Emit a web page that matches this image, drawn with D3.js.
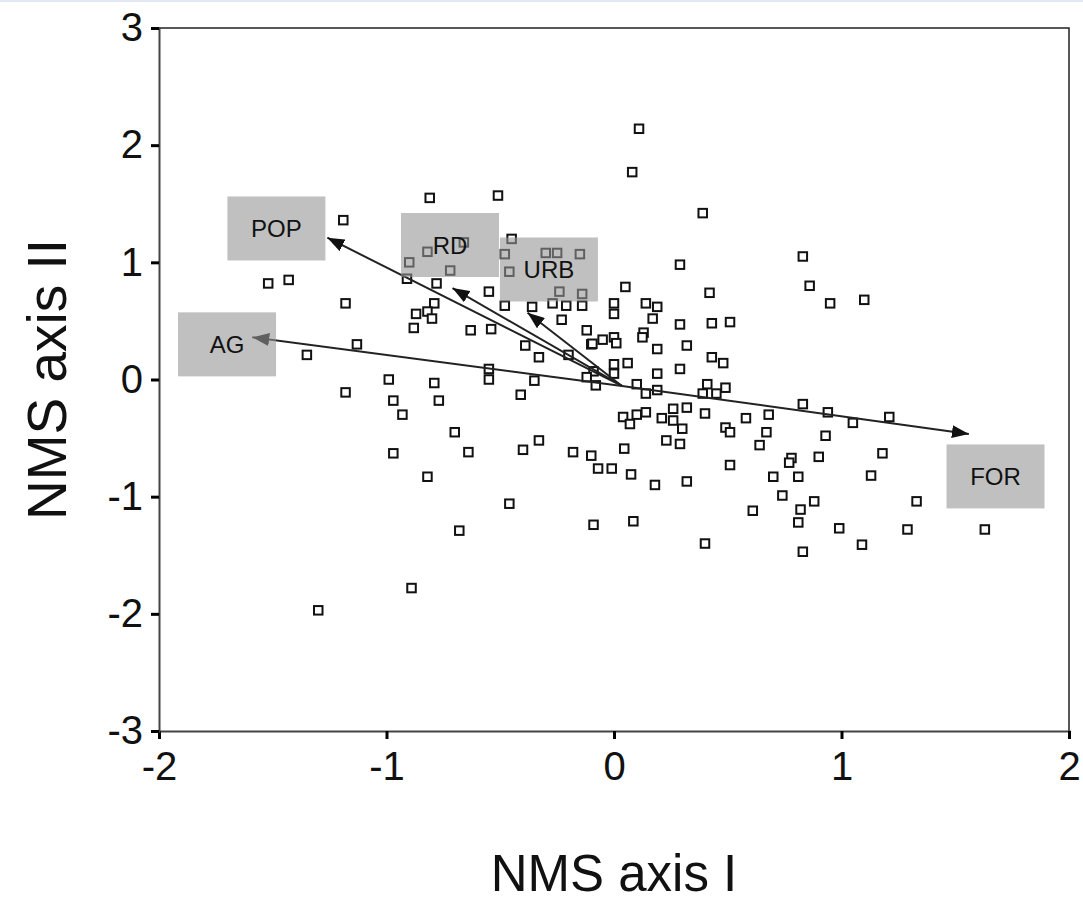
<!DOCTYPE html>
<html>
<head>
<meta charset="utf-8">
<script src="https://cdn.jsdelivr.net/npm/d3@7"></script>
<style>
  body { margin: 0; background: #fff; }
  text { font-family: Arial, "Liberation Sans", sans-serif; }
</style>
</head>
<body>
<div id="chart"></div>
<script>
// site scores on the two NMS axes
let axisI = [
  -1.19, -1.52, -1.43,
  -0.81, -0.51, -0.45, -0.82, -0.66, -0.48, -0.30, -0.25, -0.15, -0.90, -0.72, -0.46, -0.91, -0.78,
  0.11, 0.08, 0.39, 0.83, 0.29, 0.05, 0.86,
  -0.55, -0.24, -0.14, -0.79, -0.82, -0.87, -0.80, -0.88, -0.48, -0.36, -0.27, -0.21, -0.14, -0.23,
  -0.63, -0.54, -0.12, -0.05, -0.10, -0.095, -0.39, -0.33, -0.20, -0.55, -0.55, -0.09, -0.12, -0.08,
  -0.99, -0.79, -0.35, -0.41, -0.97, -0.77, -0.93, -0.70, -0.33, -0.97, -0.64, -0.40, -0.18, -0.10, -0.07,
  -1.18, -1.13, -1.35, -1.18,
  0.42, 0.95, 0.00, 0.00, 0.14, 0.19, 0.17, 0.29, 0.43, 0.51, 0.13, 0.125, 0.00, 0.01, 0.19, 0.32,
  0.43, 0.48, 0.06, 0.00, 0.19, 0.29, 0.00, 0.10, 0.14, 0.19, 0.41, 0.39, 0.45, 0.49, 0.83, 0.94,
  0.04, 0.10, 0.14, 0.07, 0.21, 0.26, 0.26, 0.32, 0.30, 0.40, 0.58, 0.68, 0.49, 0.51, 0.67, 0.23,
  0.29, 0.64, 0.93, 0.045, 0.90, 0.78, 0.77, 0.51, -0.01,
  0.075, 0.18, 0.32, 0.70, 0.81, 0.74, 0.88, 0.61, 0.82, 0.81, 0.085, 0.99, 0.40, 0.83,
  -0.82, -0.46, -0.68, -0.09, -0.89,
  -1.30,
  1.10, 1.21, 1.05, 1.18,
  1.13, 1.33, 1.29, 1.63, 1.09
];
let axisII = [
  1.36, 0.82, 0.85,
  1.55, 1.57, 1.20, 1.09, 1.17, 1.07, 1.08, 1.08, 1.07, 1.00, 0.93, 0.92, 0.86, 0.82,
  2.14, 1.77, 1.42, 1.05, 0.98, 0.79, 0.80,
  0.75, 0.75, 0.73, 0.65, 0.58, 0.56, 0.52, 0.44, 0.63, 0.62, 0.65, 0.63, 0.63, 0.51,
  0.42, 0.43, 0.42, 0.34, 0.30, 0.305, 0.29, 0.19, 0.21, 0.09, 0.00, 0.07, 0.02, -0.05,
  0.00, -0.03, -0.01, -0.13, -0.18, -0.18, -0.30, -0.45, -0.52, -0.63, -0.62, -0.60, -0.62, -0.65, -0.76,
  0.65, 0.30, 0.21, -0.11,
  0.74, 0.65, 0.65, 0.56, 0.65, 0.62, 0.52, 0.47, 0.48, 0.49, 0.40, 0.36, 0.36, 0.31, 0.26, 0.29,
  0.19, 0.14, 0.14, 0.13, 0.05, 0.09, 0.05, -0.04, -0.12, -0.09, -0.04, -0.12, -0.12, -0.07, -0.21, -0.28,
  -0.32, -0.30, -0.28, -0.38, -0.33, -0.25, -0.35, -0.24, -0.42, -0.29, -0.33, -0.30, -0.41, -0.45, -0.45, -0.52,
  -0.55, -0.56, -0.48, -0.59, -0.66, -0.67, -0.71, -0.73, -0.76,
  -0.81, -0.90, -0.87, -0.83, -0.83, -0.99, -1.04, -1.12, -1.11, -1.22, -1.21, -1.27, -1.40, -1.47,
  -0.83, -1.06, -1.29, -1.24, -1.78,
  -1.97,
  0.68, -0.32, -0.37, -0.63,
  -0.82, -1.04, -1.28, -1.28, -1.41
];

// environmental vectors
let vecNames = ['POP', 'RD', 'URB', 'AG', 'FOR'];
let vecX = [-1.26, -0.71, -0.38, -1.59, 1.56];
let vecY = [1.21, 0.78, 0.57, 0.36, -0.465];
let vecOrigin = [0.035, -0.055];
// label box centres
let labelX = [-1.484, -0.721, -0.286, -1.701, 1.677];
let labelY = [1.289, 1.148, 0.939, 0.30, -0.827];

let xTicks = [-2, -1, 0, 1, 2];
let yTicks = [-3, -2, -1, 0, 1, 2, 3];

let width = 1083;
let height = 902;

let svg = d3.select('#chart')
    .append('svg')
    .attr('width', width)
    .attr('height', height);

// faint top border of the original capture
svg.append('rect')
    .attr('x', 0).attr('y', 0)
    .attr('width', width).attr('height', 2)
    .attr('fill', '#e3e9f4');

let x = d3.scaleLinear().domain([-2, 2]).range([159, 1069]);
let y = d3.scaleLinear().domain([-3, 3]).range([731, 28]);

// frame: top and right
svg.append('path')
    .attr('d', `M${x(-2)},${y(3)}H${x(2)}V${y(-3)}`)
    .attr('fill', 'none')
    .attr('stroke', '#222')
    .attr('stroke-width', 1.5);

// axes
let xAxis = svg.append('g')
    .attr('transform', `translate(0, ${y(-3)})`)
    .call(d3.axisBottom(x).tickValues(xTicks).tickSize(8).tickPadding(13).tickFormat(d3.format('d')));
let yAxis = svg.append('g')
    .attr('transform', `translate(${x(-2)}, 0)`)
    .call(d3.axisLeft(y).tickValues(yTicks).tickSize(8).tickPadding(8).tickFormat(d3.format('d')));

[xAxis, yAxis].forEach(g => {
    g.select('.domain').attr('stroke', '#444').attr('stroke-width', 2);
    g.selectAll('.tick line').attr('stroke', '#000').attr('stroke-width', 3);
    g.selectAll('.tick text')
        .attr('fill', '#111')
        .style('font-size', '40px')
        .style('font-family', 'Arial, "Liberation Sans", sans-serif')
        .text(d => d < 0 ? '-' + Math.abs(d) : d);
});

// points
svg.append('g')
    .selectAll('rect')
    .data(axisI.map((d, i) => ({x: d, y: axisII[i]})))
    .enter()
    .append('rect')
        .attr('x', d => x(d.x) - 4.25)
        .attr('y', d => y(d.y) - 4.25)
        .attr('width', 8.5)
        .attr('height', 8.5)
        .attr('fill', 'white')
        .attr('stroke', '#111')
        .attr('stroke-width', 2);

// arrow heads
let defs = svg.append('defs');
defs.append('marker')
    .attr('id', 'head')
    .attr('viewBox', '0 0 17 13')
    .attr('refX', 17)
    .attr('refY', 6.5)
    .attr('markerWidth', 17)
    .attr('markerHeight', 13)
    .attr('markerUnits', 'userSpaceOnUse')
    .attr('orient', 'auto')
    .append('path')
        .attr('d', 'M0,0L17,6.5L0,13Z')
        .attr('fill', '#111');

let vectors = vecNames.map((n, i) => ({name: n, x: vecX[i], y: vecY[i], lx: labelX[i], ly: labelY[i]}));

svg.append('g')
    .selectAll('line')
    .data(vectors)
    .enter()
    .append('line')
        .attr('x1', x(vecOrigin[0]))
        .attr('y1', y(vecOrigin[1]))
        .attr('x2', d => x(d.x))
        .attr('y2', d => y(d.y))
        .attr('stroke', '#222')
        .attr('stroke-width', 2)
        .attr('marker-end', 'url(#head)');

// label boxes
let labels = svg.append('g')
    .selectAll('g')
    .data(vectors)
    .enter()
    .append('g')
        .attr('transform', d => `translate(${x(d.lx)}, ${y(d.ly)})`);

labels.append('rect')
    .attr('x', -49)
    .attr('y', -32)
    .attr('width', 98)
    .attr('height', 64)
    .attr('fill', '#969696')
    .attr('fill-opacity', 0.6);

labels.append('text')
    .attr('text-anchor', 'middle')
    .attr('dy', '0.36em')
    .style('font-size', '24px')
    .attr('fill', '#111')
    .text(d => d.name);

// axis titles
svg.append('text')
    .attr('x', x(0))
    .attr('y', 891)
    .attr('text-anchor', 'middle')
    .style('font-size', '51px')
    .attr('fill', '#111')
    .text('NMS axis I');

svg.append('text')
    .attr('transform', `translate(${66}, ${y(0)}) rotate(-90)`)
    .attr('text-anchor', 'middle')
    .style('font-size', '55px')
    .attr('fill', '#111')
    .text('NMS axis II');
</script>
</body>
</html>
